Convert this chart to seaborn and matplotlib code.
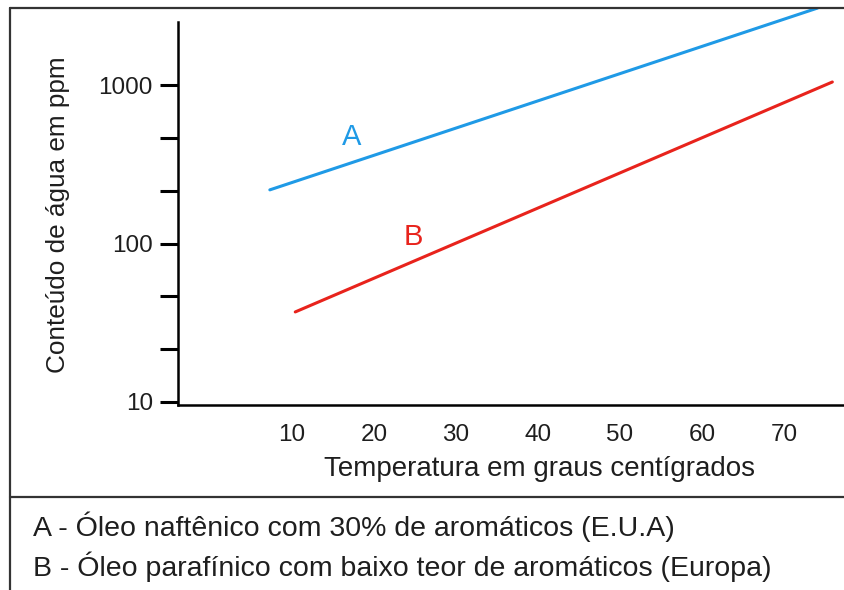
import numpy as np
import pandas as pd
import matplotlib.pyplot as plt
from matplotlib.lines import Line2D
import seaborn as sns

# values (endpoints of straight lines on log scale)
temp_a = [7.3, 74.1]
water_a = [218, 3060]
temp_b = [10.4, 75.9]
water_b = [37, 1045]
x_ticks = [10, 20, 30, 40, 50, 60, 70]
y_ticks = [10, 100, 1000]
legend_lines = ["A - Óleo naftênico com 30% de aromáticos (E.U.A)",
                "B - Óleo parafínico com baixo teor de aromáticos (Europa)"]

df = pd.DataFrame({
    "temp": temp_a + temp_b,
    "ppm": water_a + water_b,
    "serie": ["A"] * len(temp_a) + ["B"] * len(temp_b),
})

sns.set_style("white")
plt.rcParams['font.family'] = ['Liberation Sans', 'DejaVu Sans']
plt.rcParams['text.color'] = '#1e1e1e'

colors = {"A": "#1f9ae6", "B": "#e8231c"}

fig = plt.figure(figsize=(8.44, 5.90), dpi=100)
ax = fig.add_axes([178 / 844, 1 - 405 / 590, 665 / 844, 397 / 590])

sns.lineplot(data=df, x="temp", y="ppm", hue="serie", palette=colors,
             linewidth=2.2, legend=False, ax=ax)
ax.set_yscale("log")
ax.set_xlim(-3.9, 77.2)
ax.set_ylim(10 ** 0.981, 10 ** 3.486)

ax.text(17.3, 470, "A", color=colors["A"], fontsize=21, ha="center", va="center")
ax.text(24.8, 110, "B", color=colors["B"], fontsize=21, ha="center", va="center")

# axes styling
sns.despine(ax=ax)
ax.spines["left"].set_bounds(10 ** 0.981, 2495)
for s in ["left", "bottom"]:
    ax.spines[s].set_linewidth(1.8)
    ax.spines[s].set_color("black")

ax.set_yticks(y_ticks)
ax.set_yticklabels([str(v) for v in y_ticks])
minor = [10 ** (d + f) for d in (1, 2) for f in (1 / 3, 2 / 3)]
ax.set_yticks(minor, minor=True)
ax.yaxis.set_minor_formatter(plt.NullFormatter())
ax.tick_params(axis="y", which="both", direction="out", length=13, width=2.2,
               color="black", left=True, labelsize=17.5, pad=5,
               labelcolor="#1e1e1e")
ax.set_xticks(x_ticks)
ax.set_xticklabels([str(v) for v in x_ticks])
ax.tick_params(axis="x", length=0, labelsize=17.5, pad=14, labelcolor="#1e1e1e")

ax.set_ylabel("Conteúdo de água em ppm", fontsize=18.8, color="#1e1e1e")
ax.yaxis.set_label_coords(-0.163, 0.48)
ax.set_xlabel("Temperatura em graus centígrados", fontsize=20, color="#1e1e1e")
ax.xaxis.set_label_coords(0.544, -0.128)

# outer frame and separator
fig.add_artist(Line2D([10 / 844, 10 / 844], [0, 1 - 8 / 590], color="#333333", lw=1.6))
fig.add_artist(Line2D([10 / 844, 1], [1 - 8 / 590, 1 - 8 / 590], color="#333333", lw=1.6))
fig.add_artist(Line2D([10 / 844, 1], [1 - 497 / 590, 1 - 497 / 590], color="#333333", lw=1.6))

fig.text(33 / 844, 1 - 527 / 590, legend_lines[0], fontsize=20.5, va="center")
fig.text(33 / 844, 1 - 567 / 590, legend_lines[1], fontsize=20.5, va="center")

fig.savefig("out.png", dpi=100)
